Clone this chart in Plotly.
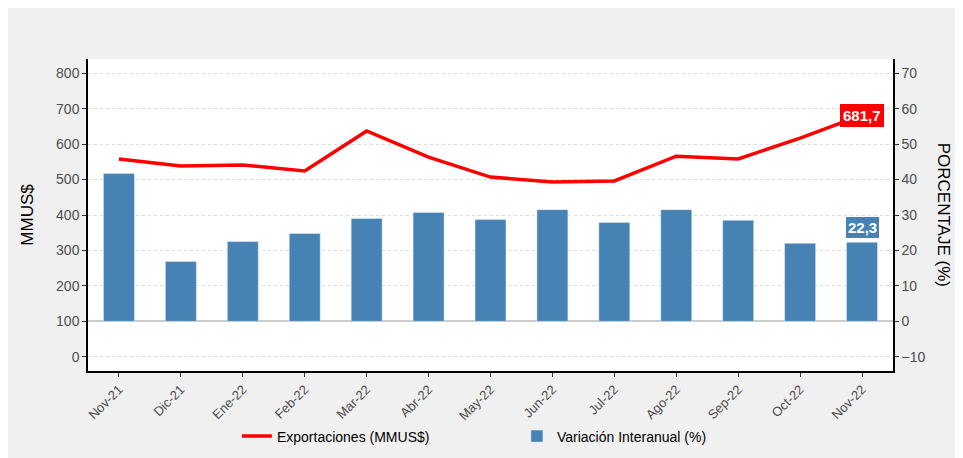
import plotly.graph_objects as go

meses = ["Nov-21", "Dic-21", "Ene-22", "Feb-22", "Mar-22", "Abr-22", "May-22",
         "Jun-22", "Jul-22", "Ago-22", "Sep-22", "Oct-22", "Nov-22"]
exportaciones = [558, 538, 541, 524, 637, 563, 507, 493, 496, 566, 558, 617, 681.7]
variacion = [41.7, 16.9, 22.5, 24.8, 29.0, 30.7, 28.7, 31.5, 27.9, 31.5, 28.5, 22.0, 22.3]

fig = go.Figure()
fig.add_trace(go.Scatter(x=meses, y=exportaciones, mode="lines",
                         line=dict(color="#ff0000", width=3.5),
                         name="Exportaciones (MMUS$)"))
fig.add_trace(go.Bar(x=meses, y=variacion, yaxis="y2", width=0.5,
                     marker=dict(color="#4682b4"),
                     name="Variación Interanual (%)"))

# etiquetas del ultimo dato
fig.add_annotation(x=meses[-1], y=exportaciones[-1], text="<b>%s</b>" % str(exportaciones[-1]).replace(".", ","),
                   showarrow=False, bgcolor="#ff0000", bordercolor="#ff0000", borderpad=2,
                   font=dict(color="white", size=15))
fig.add_annotation(x=meses[-1], y=variacion[-1], yref="y2", yanchor="bottom", yshift=4,
                   text="<b>%s</b>" % str(variacion[-1]).replace(".", ","),
                   showarrow=False, bgcolor="#4682b4", bordercolor="#4682b4", borderpad=1,
                   font=dict(color="white", size=15))
fig.add_annotation(x=1.078, y=0.5, xref="paper", yref="paper", text="PORCENTAJE (%)",
                   textangle=90, showarrow=False, font=dict(size=17, color="black"))

fig.update_layout(
    width=963, height=458,
    margin=dict(l=80, r=78, t=51, b=95),
    paper_bgcolor="#f0f0f0", plot_bgcolor="white",
    font=dict(family="Liberation Sans, Arial", size=13, color="#4d4d4d"),
    showlegend=True,
    legend=dict(orientation="h", x=0.185, y=-0.21, xanchor="left", yanchor="middle",
                entrywidth=235, font=dict(size=14, color="black"), traceorder="normal",
                bgcolor="rgba(0,0,0,0)"),
    xaxis=dict(tickangle=-45, showline=True, linecolor="black", linewidth=1.5,
               ticks="outside", ticklen=4, tickcolor="#333", showgrid=False,
               mirror=False, tickfont=dict(size=13)),
    yaxis=dict(range=[-40, 840], tickvals=[0, 100, 200, 300, 400, 500, 600, 700, 800],
               showline=True, linecolor="black", linewidth=1.5, ticks="outside", ticklen=4,
               tickcolor="#333", showgrid=True, gridcolor="#dddddd", griddash="3px,3px",
               zeroline=False, title=dict(text="MMUS$", font=dict(size=17, color="black"), standoff=18),
               tickfont=dict(size=14)),
    yaxis2=dict(range=[-14, 74], tickvals=[-10, 0, 10, 20, 30, 40, 50, 60, 70],
                overlaying="y", side="right", showline=True, linecolor="black", linewidth=1.5,
                ticks="outside", ticklen=4, tickcolor="#333", showgrid=False,
                zeroline=True, zerolinecolor="#cccccc", zerolinewidth=1.5,
                tickfont=dict(size=14)),
)

fig.write_html("out.html")
